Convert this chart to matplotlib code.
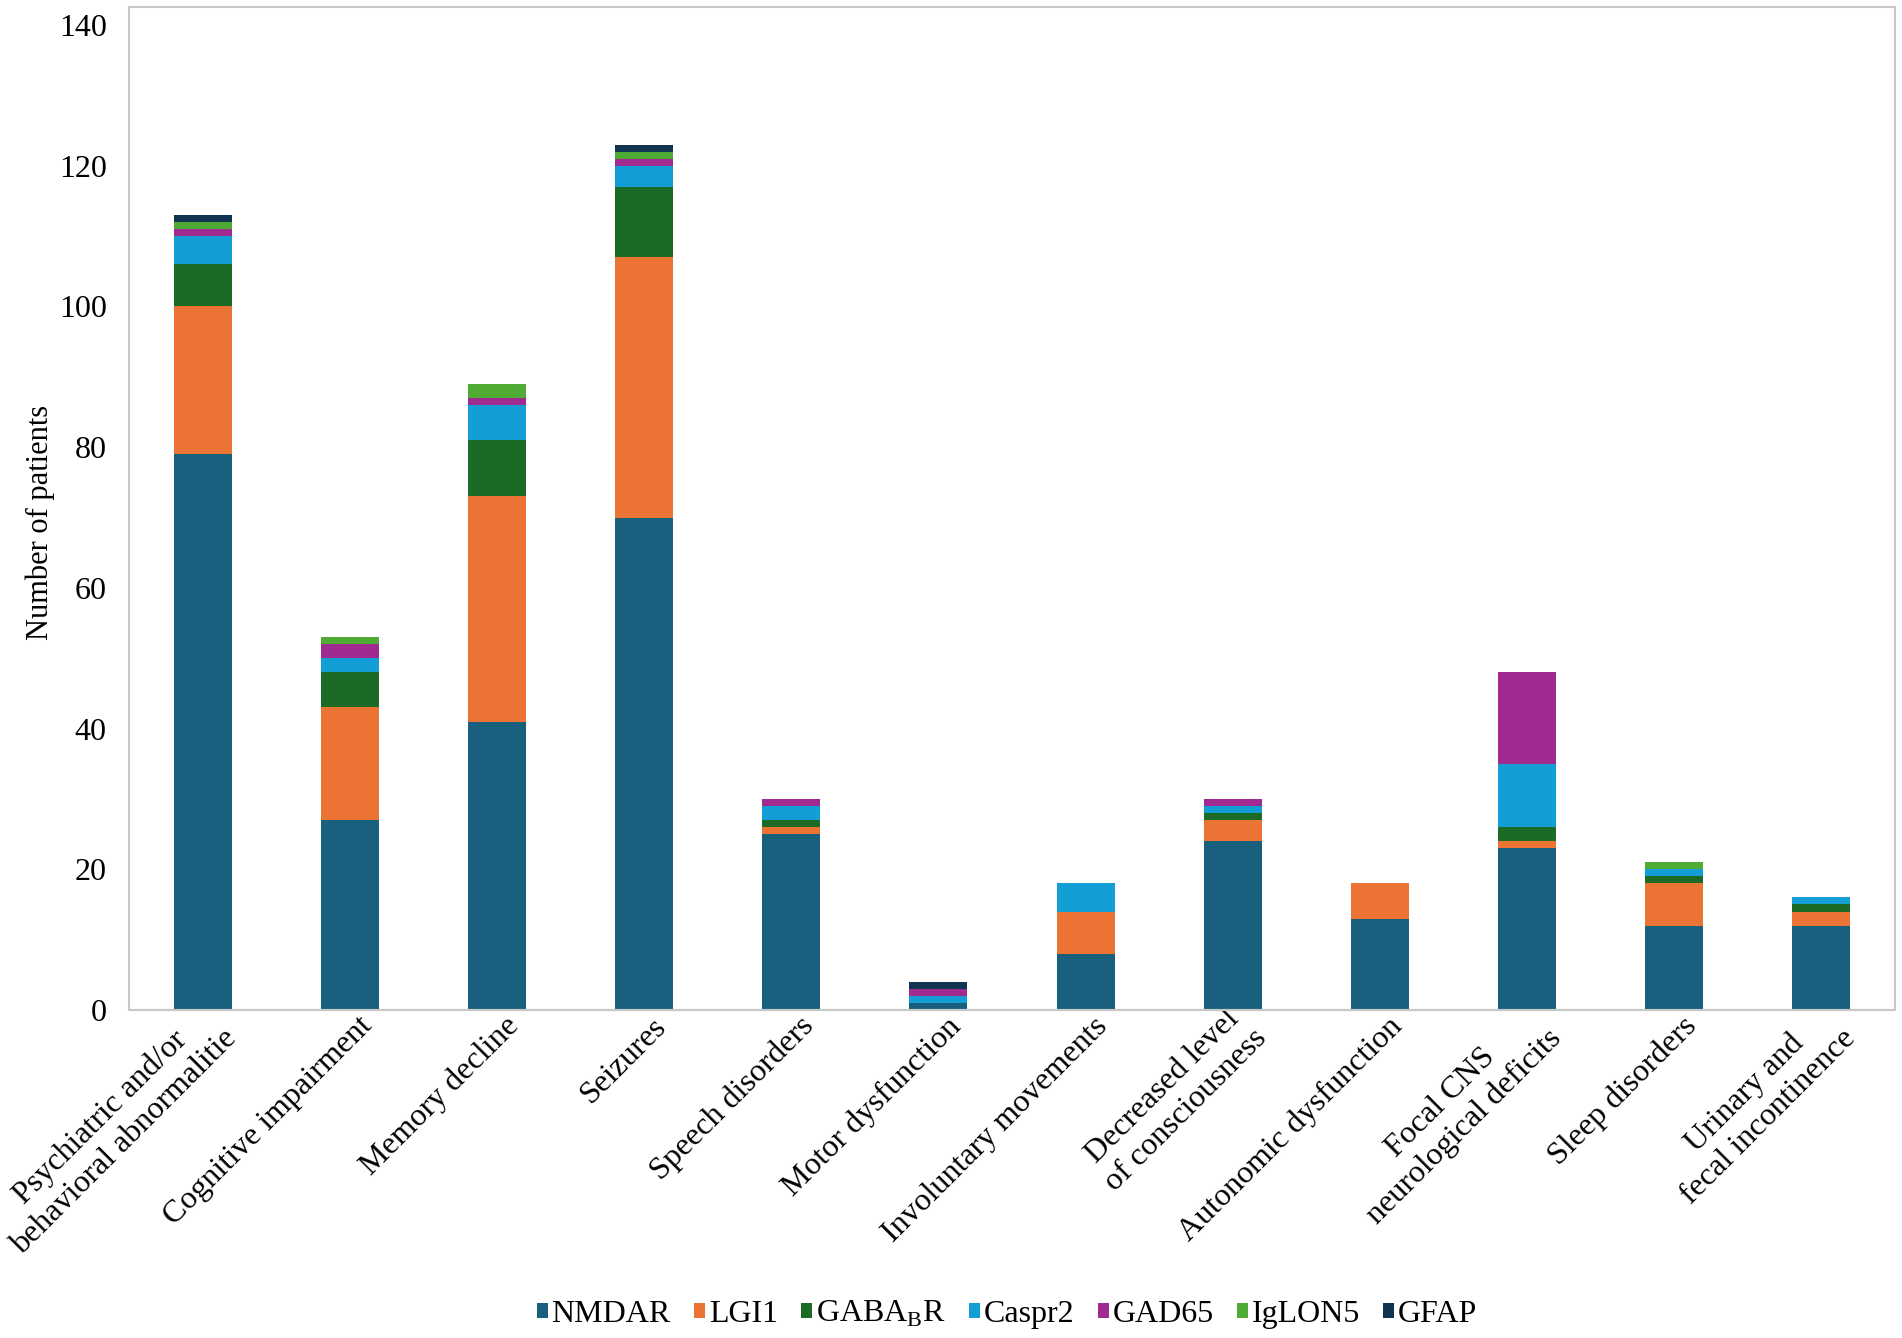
import numpy as np
import matplotlib
matplotlib.use("Agg")
import matplotlib.pyplot as plt
from matplotlib.patches import Rectangle
from matplotlib.transforms import ScaledTranslation

plt.rcParams['font.family'] = ['Liberation Serif', 'DejaVu Serif']
plt.rcParams['mathtext.fontset'] = 'custom'
plt.rcParams['mathtext.rm'] = 'Liberation Serif'

categories = [
    'Psychiatric and/or\nbehavioral abnormalitie',
    'Cognitive impairment',
    'Memory decline',
    'Seizures',
    'Speech disorders',
    'Motor dysfunction',
    'Involuntary movements',
    'Decreased level\nof consciousness',
    'Autonomic dysfunction',
    'Focal CNS\nneurological deficits',
    'Sleep disorders',
    'Urinary and\nfecal incontinence',
]

nmdar  = [79, 27, 41, 70, 25, 1, 8, 24, 13, 23, 12, 12]
lgi1   = [21, 16, 32, 37, 1, 0, 6, 3, 5, 1, 6, 2]
gabab  = [6, 5, 8, 10, 1, 0, 0, 1, 0, 2, 1, 1]
caspr2 = [4, 2, 5, 3, 2, 1, 4, 1, 0, 9, 1, 1]
gad65  = [1, 2, 1, 1, 1, 1, 0, 1, 0, 13, 0, 0]
iglon5 = [1, 1, 2, 1, 0, 0, 0, 0, 0, 0, 1, 0]
gfap   = [1, 0, 0, 1, 0, 1, 0, 0, 0, 0, 0, 0]

series = [
    ('NMDAR', nmdar, '#19607f'),
    ('LGI1', lgi1, '#eb7434'),
    (r'GABA$_{\mathrm{B}}$R', gabab, '#1b6b27'),
    ('Caspr2', caspr2, '#139fd6'),
    ('GAD65', gad65, '#a02a8f'),
    ('IgLON5', iglon5, '#50ab35'),
    ('GFAP', gfap, '#113550'),
]

W, H = 1902, 1338
fig = plt.figure(figsize=(W / 100, H / 100), dpi=100)
# plot area in pixels: left 129, right 1895, zero line at 1010, 140 at 25
ax = fig.add_axes([129 / W, 1 - 1010 / H, 1766 / W, (1010 - 25) / H])

x = np.arange(len(categories))
bottom = np.zeros(len(categories))
for name, vals, color in series:
    ax.bar(x, vals, width=0.395, bottom=bottom, color=color, label=name,
           edgecolor='none', zorder=2)
    bottom += np.array(vals)

ax.set_xlim(-0.5, 11.5)
ax.set_ylim(0, 140)
ax.set_yticks(range(0, 141, 20))
ax.tick_params(axis='y', length=0, labelsize=23, pad=16)
ax.tick_params(axis='x', length=0, labelsize=23, pad=0)
ax.set_xticks(x)
ax.set_xticklabels(categories, rotation=45, ha='right', va='center',
                   rotation_mode='anchor', multialignment='center')
# nudge the rotated labels so their ends sit just right of each bar
shift = ScaledTranslation(18 / 100, -12 / 100, fig.dpi_scale_trans)
for lbl in ax.get_xticklabels():
    lbl.set_transform(lbl.get_transform() + shift)

for s in ['top', 'left', 'right']:
    ax.spines[s].set_visible(False)
ax.spines['bottom'].set_color('#b5b5b5')
ax.spines['bottom'].set_linewidth(1.5)

fig.text(40 / W, 1 - 522 / H, 'Number of patients', rotation=90,
         ha='center', va='center', fontsize=22)

# plot area border
fig.patches.append(Rectangle((129 / W, 1 - 1010 / H), 1766 / W, (1010 - 7) / H,
                             transform=fig.transFigure, fill=False,
                             edgecolor='#c8c8c8', linewidth=1.5, zorder=0))

fig.legend(loc='center', bbox_to_anchor=(1007 / W, 1 - 1314 / H), ncol=7,
           frameon=False, fontsize=23, handlelength=0.35, handleheight=0.35,
           handletextpad=0.12, columnspacing=0.72)

fig.savefig('out.png', dpi=100)
